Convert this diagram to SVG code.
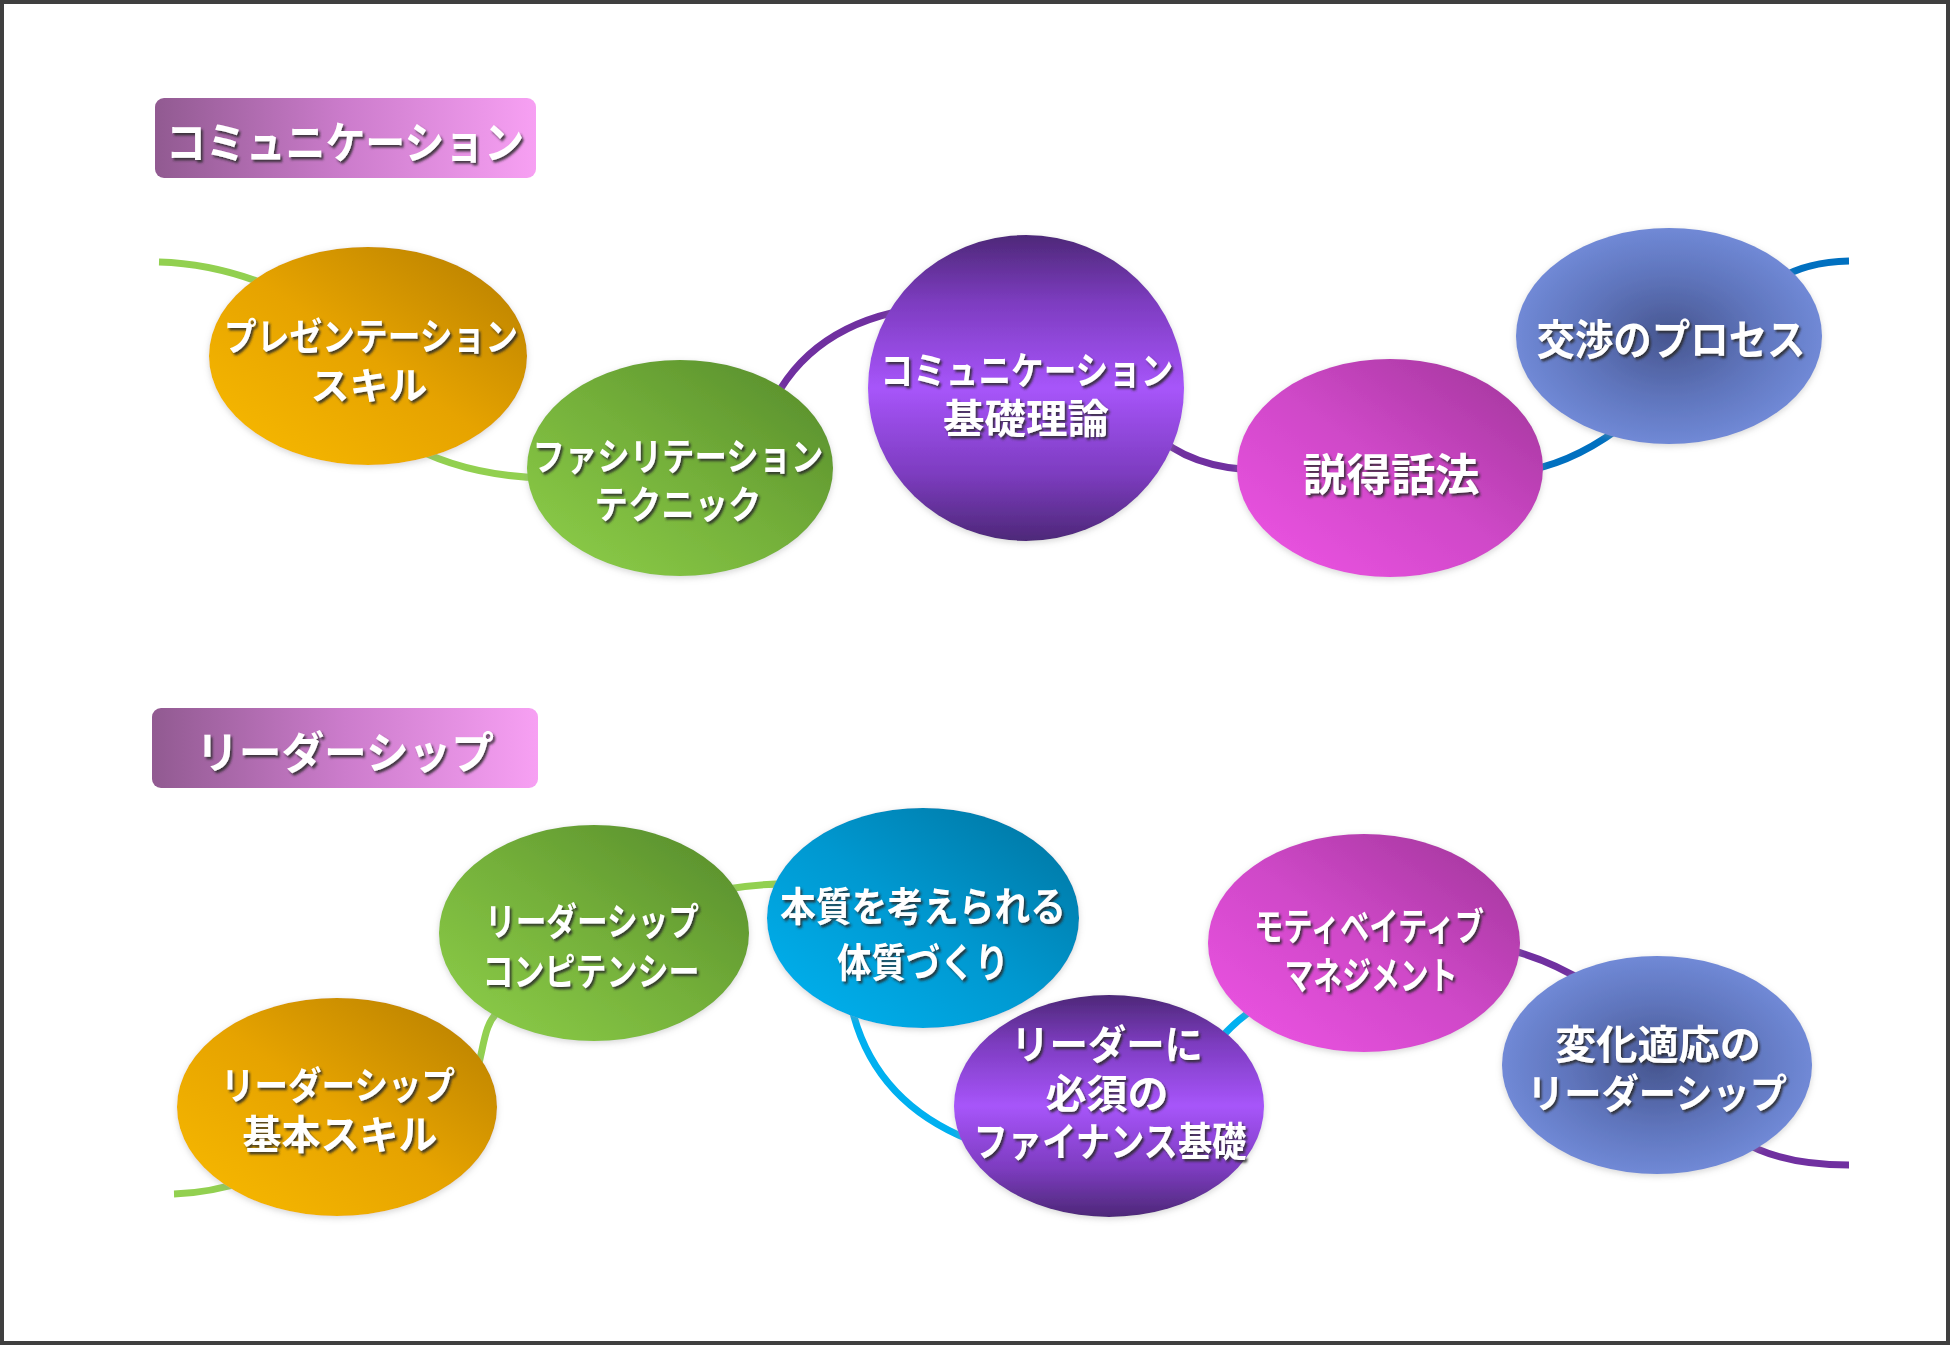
<svg xmlns="http://www.w3.org/2000/svg" width="1950" height="1345" viewBox="0 0 1950 1345">
<defs>
<style>
.lbl{font-family:"Noto Sans CJK JP","Noto Sans CJK SC",sans-serif;font-weight:bold;fill:#ffffff;dominant-baseline:central;text-anchor:middle;filter:url(#ts)}
.ttl{font-family:"Noto Sans CJK JP","Noto Sans CJK SC",sans-serif;font-weight:bold;fill:#ffffff;dominant-baseline:central;filter:url(#ts)}
.con{fill:none;stroke-width:7;stroke-linecap:butt}
</style>
<filter id="ts" x="-10%" y="-30%" width="120%" height="160%">
<feDropShadow dx="2" dy="2.5" stdDeviation="1.2" flood-color="#2a2a2a" flood-opacity="0.85"/>
</filter>
<filter id="es" x="-10%" y="-10%" width="120%" height="120%">
<feDropShadow dx="0" dy="2" stdDeviation="3" flood-color="#999" flood-opacity="0.4"/>
</filter>
<linearGradient id="gTitle" x1="0" y1="0" x2="1" y2="0">
<stop offset="0" stop-color="#915a91"/><stop offset="0.5" stop-color="#cc7ccc"/><stop offset="1" stop-color="#f7a0f3"/>
</linearGradient>
<linearGradient id="gOrange" x1="0" y1="1" x2="1" y2="0">
<stop offset="0" stop-color="#f9bb00"/><stop offset="0.5" stop-color="#e6a300"/><stop offset="1" stop-color="#b47d00"/>
</linearGradient>
<linearGradient id="gGreen" x1="0" y1="1" x2="1" y2="0">
<stop offset="0" stop-color="#8fd04a"/><stop offset="0.5" stop-color="#74b03a"/><stop offset="1" stop-color="#558a2a"/>
</linearGradient>
<linearGradient id="gMagenta" x1="0" y1="1" x2="1" y2="0">
<stop offset="0" stop-color="#f055e6"/><stop offset="0.5" stop-color="#cf48c8"/><stop offset="1" stop-color="#9f3598"/>
</linearGradient>
<linearGradient id="gCyan" x1="0" y1="1" x2="1" y2="0">
<stop offset="0" stop-color="#00b4f2"/><stop offset="0.5" stop-color="#0098d0"/><stop offset="1" stop-color="#00739e"/>
</linearGradient>
<linearGradient id="gPurple" x1="0" y1="0" x2="0" y2="1">
<stop offset="0" stop-color="#4d2878"/><stop offset="0.22" stop-color="#7d3cc0"/><stop offset="0.5" stop-color="#a755fa"/><stop offset="0.78" stop-color="#7d3cc0"/><stop offset="1" stop-color="#4d2878"/>
</linearGradient>
<radialGradient id="gBlue" cx="0.5" cy="0.5" r="0.5">
<stop offset="0" stop-color="#475690"/><stop offset="0.6" stop-color="#6076be"/><stop offset="1" stop-color="#7089d6"/>
</radialGradient>
</defs>
<rect x="0" y="0" width="1950" height="1345" fill="#ffffff"/>
<rect x="2" y="2" width="1946" height="1341" fill="none" stroke="#3f3f3f" stroke-width="4"/>

<g id="connectors">
<path class="con" stroke="#92d050" d="M159,262 Q 230,264 300,300"/>
<path class="con" stroke="#92d050" d="M400,440 Q 460,476 545,478"/>
<path class="con" stroke="#7030a0" d="M765,420 Q 800,330 905,310"/>
<path class="con" stroke="#7030a0" d="M1150,430 Q 1190,470 1262,470"/>
<path class="con" stroke="#0070c0" d="M1530,470 Q 1580,460 1630,420"/>
<path class="con" stroke="#0070c0" d="M1770,285 Q 1800,262 1849,261"/>
<path class="con" stroke="#92d050" d="M174,1194 Q 210,1193 250,1180"/>
<path class="con" stroke="#92d050" d="M470,1090 C 485,1060 480,1025 500,1010"/>
<path class="con" stroke="#92d050" d="M720,890 Q 760,883 800,884"/>
<path class="con" stroke="#00b0f0" d="M850,1000 Q 870,1100 970,1140"/>
<path class="con" stroke="#00b0f0" d="M1215,1045 Q 1235,1020 1260,1005"/>
<path class="con" stroke="#7030a0" d="M1510,950 Q 1550,960 1590,985"/>
<path class="con" stroke="#7030a0" d="M1740,1140 Q 1780,1165 1849,1165"/>
</g>

<g id="title-communication">
<rect x="155" y="98" width="381" height="80" rx="9" fill="url(#gTitle)"/>
<text class="ttl" x="166" y="140" font-size="44" textLength="358" lengthAdjust="spacingAndGlyphs">コミュニケーション</text>
</g>
<g id="title-leadership">
<rect x="152" y="708" width="386" height="80" rx="9" fill="url(#gTitle)"/>
<text class="ttl" x="196" y="750" font-size="44" textLength="298" lengthAdjust="spacingAndGlyphs">リーダーシップ</text>
</g>

<g id="n-presentation">
<ellipse cx="368" cy="356" rx="159" ry="109" fill="url(#gOrange)" filter="url(#es)"/>
<text class="lbl" x="371" y="333" font-size="38" textLength="294" lengthAdjust="spacingAndGlyphs">プレゼンテーション</text>
<text class="lbl" x="369" y="382" font-size="38" textLength="117" lengthAdjust="spacingAndGlyphs">スキル</text>
</g>
<g id="n-facilitation">
<ellipse cx="680" cy="468" rx="153" ry="108" fill="url(#gGreen)" filter="url(#es)"/>
<text class="lbl" x="678" y="453" font-size="38" textLength="291" lengthAdjust="spacingAndGlyphs">ファシリテーション</text>
<text class="lbl" x="678" y="501" font-size="38" textLength="167" lengthAdjust="spacingAndGlyphs">テクニック</text>
</g>
<g id="n-commbasic">
<ellipse cx="1026" cy="388" rx="158" ry="153" fill="url(#gPurple)" filter="url(#es)"/>
<text class="lbl" x="1027" y="367" font-size="38" textLength="293" lengthAdjust="spacingAndGlyphs">コミュニケーション</text>
<text class="lbl" x="1026" y="416" font-size="40" textLength="166" lengthAdjust="spacingAndGlyphs">基礎理論</text>
</g>
<g id="n-persuasion">
<ellipse cx="1390" cy="468" rx="153" ry="109" fill="url(#gMagenta)" filter="url(#es)"/>
<text class="lbl" x="1391" y="472" font-size="44" textLength="177" lengthAdjust="spacingAndGlyphs">説得話法</text>
</g>
<g id="n-negotiation">
<ellipse cx="1669" cy="336" rx="153" ry="108" fill="url(#gBlue)" filter="url(#es)"/>
<text class="lbl" x="1671" y="336" font-size="42" textLength="269" lengthAdjust="spacingAndGlyphs">交渉のプロセス</text>
</g>

<g id="n-leaderbasic">
<ellipse cx="337" cy="1107" rx="160" ry="109" fill="url(#gOrange)" filter="url(#es)"/>
<text class="lbl" x="338" y="1082" font-size="38" textLength="234" lengthAdjust="spacingAndGlyphs">リーダーシップ</text>
<text class="lbl" x="340" y="1132" font-size="40" textLength="195" lengthAdjust="spacingAndGlyphs">基本スキル</text>
</g>
<g id="n-competency">
<ellipse cx="594" cy="933" rx="155" ry="108" fill="url(#gGreen)" filter="url(#es)"/>
<text class="lbl" x="592" y="918" font-size="38" textLength="214" lengthAdjust="spacingAndGlyphs">リーダーシップ</text>
<text class="lbl" x="591" y="968" font-size="38" textLength="217" lengthAdjust="spacingAndGlyphs">コンピテンシー</text>
</g>
<g id="n-essence">
<ellipse cx="923" cy="918" rx="156" ry="110" fill="url(#gCyan)" filter="url(#es)"/>
<text class="lbl" x="923" y="904" font-size="40" textLength="286" lengthAdjust="spacingAndGlyphs">本質を考えられる</text>
<text class="lbl" x="923" y="960" font-size="40" textLength="172" lengthAdjust="spacingAndGlyphs">体質づくり</text>
</g>
<g id="n-finance">
<ellipse cx="1109" cy="1106" rx="155" ry="111" fill="url(#gPurple)" filter="url(#es)"/>
<text class="lbl" x="1107" y="1042" font-size="40" textLength="192" lengthAdjust="spacingAndGlyphs">リーダーに</text>
<text class="lbl" x="1107" y="1091" font-size="40" textLength="123" lengthAdjust="spacingAndGlyphs">必須の</text>
<text class="lbl" x="1110" y="1139" font-size="40" textLength="273" lengthAdjust="spacingAndGlyphs">ファイナンス基礎</text>
</g>
<g id="n-motivative">
<ellipse cx="1364" cy="943" rx="156" ry="109" fill="url(#gMagenta)" filter="url(#es)"/>
<text class="lbl" x="1369" y="923" font-size="38" textLength="230" lengthAdjust="spacingAndGlyphs">モティベイティブ</text>
<text class="lbl" x="1371" y="972" font-size="38" textLength="173" lengthAdjust="spacingAndGlyphs">マネジメント</text>
</g>
<g id="n-change">
<ellipse cx="1657" cy="1065" rx="155" ry="109" fill="url(#gBlue)" filter="url(#es)"/>
<text class="lbl" x="1658" y="1042" font-size="40" textLength="206" lengthAdjust="spacingAndGlyphs">変化適応の</text>
<text class="lbl" x="1657" y="1091" font-size="40" textLength="260" lengthAdjust="spacingAndGlyphs">リーダーシップ</text>
</g>
</svg>
